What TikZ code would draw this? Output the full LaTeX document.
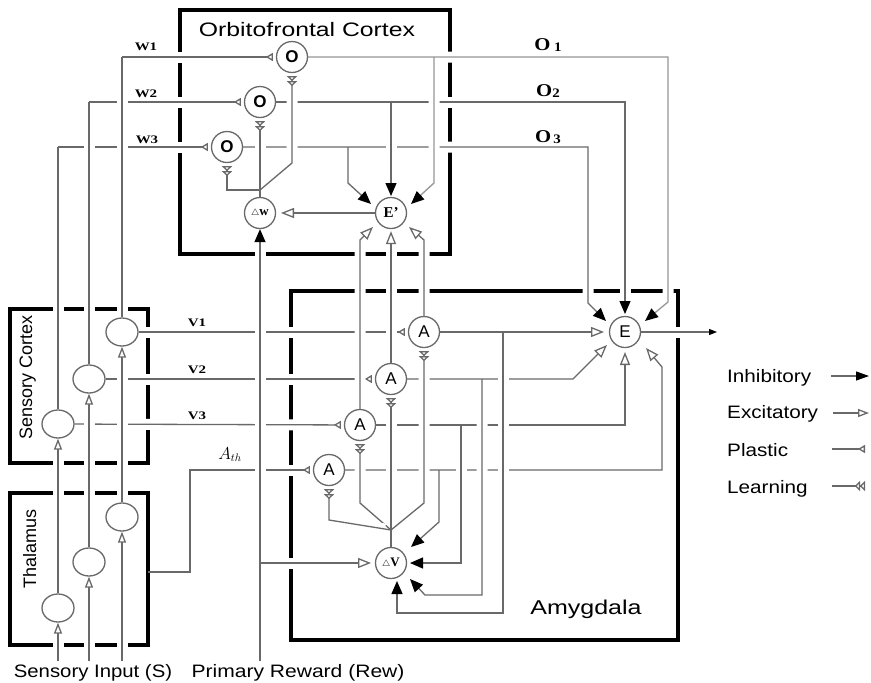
\documentclass[tikz,border=0pt]{standalone}
\usepackage{fontspec}
\setmainfont{Liberation Serif}
\setsansfont{Liberation Sans}
\usetikzlibrary{arrows.meta,shapes.geometric}
\pgfdeclarelayer{bg}
\pgfsetlayers{bg,main}
\definecolor{conn}{RGB}{105,105,105}
\newcommand{\stretchx}[2]{\scalebox{#1}[1]{#2}}
\tikzset{
  box/.style={draw=black,line width=3.5pt},
  ln/.style={draw=conn,line width=1.3pt},
  hop/.style={ln,preaction={draw=white,line width=11pt,arrows=-,shorten <=6pt,shorten >=6pt}},
  inh/.style={-{Triangle[length=13pt,width=11pt,color=black]}},
  exc/.style={-{Triangle[length=13pt,width=10pt,fill=white]}},
  excs/.style={-{Triangle[length=11pt,width=8pt,fill=white]}},
  pla/.style={-{Triangle[reversed,length=7pt,width=8pt,fill=white]},shorten >=3pt},
  lea/.style={-{Triangle[reversed,length=5pt,width=10pt,fill=white]Triangle[reversed,length=5pt,width=10pt,fill=white]},shorten >=3pt},
  neu/.style={ellipse,draw=conn,line width=1.3pt,fill=white,minimum width=32pt,minimum height=28pt,inner sep=0pt},
  cell/.style={circle,draw=conn,line width=1.3pt,fill=white,minimum size=31pt,inner sep=0pt},
  asty/.style={font=\sffamily\fontsize{17}{17}\selectfont},
  osty/.style={font=\sffamily\bfseries\fontsize{17}{17}\selectfont},
  lbl/.style={font=\sffamily\fontsize{18}{18}\selectfont,inner sep=0pt},
  wl/.style={font=\bfseries\fontsize{11.5}{11.5}\selectfont,inner sep=0pt,anchor=base},
}
\begin{document}
\begin{tikzpicture}[x=1pt,y=-1pt]
\useasboundingbox (0,0) rectangle (871,683);
% ---------- nodes ----------
\node[cell,osty] (O1) at (292,57) {O};
\node[cell,osty] (O2) at (260,102) {O};
\node[cell,osty] (O3) at (227,147) {O};
\node[cell] (Dw) at (260,213) {\fontsize{13}{13}\selectfont$\scriptstyle\triangle$\textbf{w}};
\node[cell] (Ep) at (391,213) {\fontsize{15}{15}\selectfont\textbf{E'}};
\node[neu] (S1) at (122,332) {};
\node[neu] (S2) at (89,379) {};
\node[neu] (S3) at (58,424) {};
\node[neu] (T1) at (122,517) {};
\node[neu] (T2) at (89,562) {};
\node[neu] (T3) at (58,608) {};
\node[cell,asty] (A1) at (424,332) {A};
\node[cell,asty] (A2) at (391,379) {A};
\node[cell,asty] (A3) at (360,425) {A};
\node[cell,asty] (A4) at (329,470) {A};
\node[cell] (DV) at (391,563) {\fontsize{13}{13}\selectfont$\scriptstyle\triangle$\textbf{V}};
\node[cell,asty] (E) at (625,332) {E};
% ---------- texts ----------
\node[lbl,anchor=base,font=\sffamily\fontsize{19.5}{20}\selectfont] (tOFC) at (307,36) {\stretchx{1.27}{Orbitofrontal Cortex}};
\node[wl] (tW1) at (146,50) {\stretchx{1.3}{W1}};
\node[wl] (tW2) at (146,97) {\stretchx{1.3}{W2}};
\node[wl] (tW3) at (147,143) {\stretchx{1.3}{W3}};
\node[wl] (tV1) at (197,326) {\stretchx{1.3}{V1}};
\node[wl] (tV2) at (197,373) {\stretchx{1.3}{V2}};
\node[wl] (tV3) at (197,419) {\stretchx{1.3}{V3}};
\node[inner sep=0pt,anchor=base] (tO1) at (548,50) {\stretchx{1.15}{\fontsize{18}{18}\selectfont\textbf{O}\hspace{3pt}\raisebox{-1.5pt}{\fontsize{13}{13}\selectfont\textbf{1}}}};
\node[inner sep=0pt,anchor=base] (tO2) at (548,96) {\stretchx{1.15}{\fontsize{18}{18}\selectfont\textbf{O}\raisebox{-1.5pt}{\fontsize{13}{13}\selectfont\textbf{2}}}};
\node[inner sep=0pt,anchor=base] (tO3) at (548,142) {\stretchx{1.15}{\fontsize{18}{18}\selectfont\textbf{O}\hspace{2pt}\raisebox{-1.5pt}{\fontsize{13}{13}\selectfont\textbf{3}}}};
\node[inner sep=0pt,anchor=base] (tAth) at (230,459) {\fontsize{16}{16}\selectfont$A_{th}$};
\node[lbl,rotate=90,anchor=base] (tSC) at (32,377) {Sensory Cortex};
\node[lbl,rotate=90,anchor=base] (tTh) at (36,549) {Thalamus};
\node[lbl,anchor=base] (tSI) at (93,677) {\stretchx{1.13}{Sensory Input (S)}};
\node[lbl,anchor=base] (tPR) at (298,677) {\stretchx{1.17}{Primary Reward (Rew)}};
\node[lbl,anchor=base,font=\sffamily\fontsize{20}{20}\selectfont] (tAm) at (586,614) {\stretchx{1.25}{Amygdala}};
\node[lbl,anchor=base west] (tInh) at (727,382) {\stretchx{1.15}{Inhibitory}};
\node[lbl,anchor=base west] (tExc) at (727,418) {\stretchx{1.15}{Excitatory}};
\node[lbl,anchor=base west] (tPla) at (727,456) {\stretchx{1.15}{Plastic}};
\node[lbl,anchor=base west] (tLea) at (727,493) {\stretchx{1.15}{Learning}};
\coordinate (Lin1) at (831,376); \coordinate (Lin2) at (869,376);
\coordinate (Lex1) at (833,413); \coordinate (Lex2) at (869,413);
\coordinate (Lpl1) at (832,449); \coordinate (Lpl2) at (868,449);
\coordinate (Lle1) at (832,486); \coordinate (Lle2) at (868,486);
\coordinate (Eout) at (717,332);
\begin{pgfonlayer}{bg}
\fill[white] (0,0) rectangle (871,683);
% boxes
\draw[box] (180,10) rectangle (450,254);
\draw[box] (10,309) rectangle (148,463);
\draw[box] (10,493) rectangle (148,645);
\draw[box] (291,291) rectangle (678,640);
% ---------- horizontal group ----------
\draw[hop,pla] (122,57) -- (O1);
\draw[hop,pla] (89,102) -- (O2);
\draw[hop,pla] (58,147) -- (O3);
\draw[hop,inh,draw=conn!70] (O1) -- (668,57) -- (668,302) -- (645,321);
\draw[hop,inh] (O2) -- (625,102) -- (625,314);
\draw[hop,inh] (O3) -- (588,147) -- (588,303) -- (606,321);
\draw[hop,exc] (Ep) -- (281,213);
\draw[hop,pla] (S1) -- (A1);
\draw[hop,pla] (S2) -- (A2);
\draw[hop,pla] (S3) -- (A3);
\draw[hop,pla] (148,572) -- (190,572) -- (190,470) -- (A4);
\draw[hop,exc] (A1) -- (604,332);
\draw[hop,exc] (A2) -- (573,379) -- (607,345);
\draw[hop,exc] (A3) -- (625,425) -- (625,352);
\draw[hop,exc] (A4) -- (662,470) -- (662,367) -- (646,348);
\draw[hop,-{Triangle[length=8pt,width=6pt,color=black]}] (E) -- (Eout);
% ---------- vertical group ----------
\draw[hop] (S3) -- (58,147);
\draw[hop] (S2) -- (89,102);
\draw[hop] (S1) -- (122,57);
\draw[hop,excs] (T1) -- (S1);
\draw[hop,excs] (T2) -- (S2);
\draw[hop,excs] (T3) -- (S3);
\draw[hop,excs] (58,661) -- (T3);
\draw[hop,excs] (89,661) -- (T2);
\draw[hop,excs] (122,661) -- (T1);
\draw[hop,inh] (260,661) -- (Dw);
\draw[hop,lea] (Dw) -- (O2);
\draw[hop,lea] (260,190) -- (227,190) -- (O3);
\draw[hop,lea] (260,190) -- (292,163) -- (O1);
\draw[hop,inh,draw=conn!70] (434,57) -- (434,183) -- (411,204);
\draw[hop,inh] (391,102) -- (391,196);
\draw[hop,inh] (348,147) -- (348,183) -- (371,204);
\draw[hop,exc] (A3) -- (360,240) -- (373,227);
\draw[hop,exc,shorten >=2pt] (A2) -- (Ep);
\draw[hop,exc] (A1) -- (424,240) -- (409,227);
\draw[hop,lea] (DV) -- (A2);
\draw[hop,lea] (391,530) -- (360,503) -- (A3);
\draw[hop,lea] (391,530) -- (424,503) -- (A1);
\draw[hop,lea] (391,530) -- (329,520) -- (A4);
\draw[hop,inh] (503,332) -- (503,613) -- (397,613) -- (397,581);
\draw[hop,inh] (482,379) -- (482,595) -- (425,595) -- (410,579);
\draw[hop,inh] (461,425) -- (461,563) -- (410,563);
\draw[hop,inh] (439,470) -- (439,522) -- (411,547);
\draw[hop,exc] (260,563) -- (371,563);
% ---------- legend ----------
\draw[ln,-{Triangle[length=13pt,width=9pt,color=black]}] (Lin1) -- (Lin2);
\draw[ln,excs] (Lex1) -- (Lex2);
\draw[ln,pla] (Lpl1) -- (Lpl2);
\draw[ln,lea] (Lle1) -- (Lle2);
\end{pgfonlayer}
\end{tikzpicture}
\end{document}
